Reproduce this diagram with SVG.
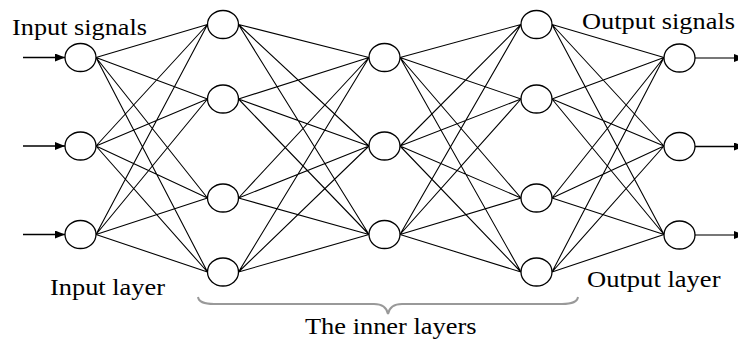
<svg xmlns="http://www.w3.org/2000/svg" width="738" height="340" viewBox="0 0 738 340">
  <style>
    .node { fill: #fff; stroke: #000; stroke-width: 1.3; }
    .edge { stroke: #000; stroke-width: 1.1; fill: none; }
    .sig { stroke: #000; stroke-width: 1.3; }
    .sig-gray { stroke: #777; stroke-width: 2; }
    .label { font-family: "Times New Roman", "Liberation Serif", Tinos, Times, serif; font-size: 24px; fill: #000; }
    .brace { stroke: #999; stroke-width: 2; fill: none; }
  </style>
  <defs>
    <marker id="arrow" viewBox="0 0 10 8" refX="10" refY="4" markerWidth="10" markerHeight="8" markerUnits="userSpaceOnUse" orient="auto">
      <path d="M0,0 L10,4 L0,8 Z" fill="#000"/>
    </marker>
  </defs>

  <!-- full-mesh connections between consecutive layers, edge point to edge point -->
  <g id="connectors">
    <!-- input layer (x 80.5) to hidden layer 1 (x 223) -->
    <path class="edge" d="M96,57.5 L207.5,24.5 M96,57.5 L207.5,99 M96,57.5 L207.5,198 M96,57.5 L207.5,272
                          M96,146 L207.5,24.5 M96,146 L207.5,99 M96,146 L207.5,198 M96,146 L207.5,272
                          M96,234.5 L207.5,24.5 M96,234.5 L207.5,99 M96,234.5 L207.5,198 M96,234.5 L207.5,272"/>
    <!-- hidden layer 1 to hidden layer 2 (x 384.5) -->
    <path class="edge" d="M238.5,24.5 L369,57.5 M238.5,24.5 L369,146 M238.5,24.5 L369,234.5
                          M238.5,99 L369,57.5 M238.5,99 L369,146 M238.5,99 L369,234.5
                          M238.5,198 L369,57.5 M238.5,198 L369,146 M238.5,198 L369,234.5
                          M238.5,272 L369,57.5 M238.5,272 L369,146 M238.5,272 L369,234.5"/>
    <!-- hidden layer 2 to hidden layer 3 (x 536.5) -->
    <path class="edge" d="M400,57.5 L521,24.5 M400,57.5 L521,99 M400,57.5 L521,198 M400,57.5 L521,272
                          M400,146 L521,24.5 M400,146 L521,99 M400,146 L521,198 M400,146 L521,272
                          M400,234.5 L521,24.5 M400,234.5 L521,99 M400,234.5 L521,198 M400,234.5 L521,272"/>
    <!-- hidden layer 3 to output layer (x 679.5) -->
    <path class="edge" d="M552,24.5 L664,57.5 M552,24.5 L664,146 M552,24.5 L664,234.5
                          M552,99 L664,57.5 M552,99 L664,146 M552,99 L664,234.5
                          M552,198 L664,57.5 M552,198 L664,146 M552,198 L664,234.5
                          M552,272 L664,57.5 M552,272 L664,146 M552,272 L664,234.5"/>
    <!-- incoming signals -->
    <line class="sig" x1="23" y1="57.5" x2="65" y2="57.5" marker-end="url(#arrow)"/>
    <line class="sig" x1="23" y1="146" x2="65" y2="146" marker-end="url(#arrow)"/>
    <line class="sig" x1="23" y1="234.5" x2="65" y2="234.5" marker-end="url(#arrow)"/>
    <!-- outgoing signals -->
    <line class="sig-gray" x1="695" y1="58" x2="744" y2="58" marker-end="url(#arrow)"/>
    <line class="sig" x1="695" y1="146.5" x2="744" y2="146.5" marker-end="url(#arrow)"/>
    <line class="sig-gray" x1="695" y1="235" x2="744" y2="235" marker-end="url(#arrow)"/>
  </g>

  <!-- input layer -->
  <g id="in1"><ellipse class="node" cx="80.5" cy="57.5" rx="15.5" ry="14"/></g>
  <g id="in2"><ellipse class="node" cx="80.5" cy="146" rx="15.5" ry="14"/></g>
  <g id="in3"><ellipse class="node" cx="80.5" cy="234.5" rx="15.5" ry="14"/></g>

  <!-- hidden layer 1 -->
  <g id="h1a"><ellipse class="node" cx="223" cy="24.5" rx="15.5" ry="14"/></g>
  <g id="h1b"><ellipse class="node" cx="223" cy="99" rx="15.5" ry="14"/></g>
  <g id="h1c"><ellipse class="node" cx="223" cy="198" rx="15.5" ry="14"/></g>
  <g id="h1d"><ellipse class="node" cx="223" cy="272" rx="15.5" ry="14"/></g>

  <!-- hidden layer 2 -->
  <g id="h2a"><ellipse class="node" cx="384.5" cy="57.5" rx="15.5" ry="14"/></g>
  <g id="h2b"><ellipse class="node" cx="384.5" cy="146" rx="15.5" ry="14"/></g>
  <g id="h2c"><ellipse class="node" cx="384.5" cy="234.5" rx="15.5" ry="14"/></g>

  <!-- hidden layer 3 -->
  <g id="h3a"><ellipse class="node" cx="536.5" cy="24.5" rx="15.5" ry="14"/></g>
  <g id="h3b"><ellipse class="node" cx="536.5" cy="99" rx="15.5" ry="14"/></g>
  <g id="h3c"><ellipse class="node" cx="536.5" cy="198" rx="15.5" ry="14"/></g>
  <g id="h3d"><ellipse class="node" cx="536.5" cy="272" rx="15.5" ry="14"/></g>

  <!-- output layer -->
  <g id="out1"><ellipse class="node" cx="679.5" cy="58" rx="15.5" ry="14"/></g>
  <g id="out2"><ellipse class="node" cx="679.5" cy="146.5" rx="15.5" ry="14"/></g>
  <g id="out3"><ellipse class="node" cx="679.5" cy="235" rx="15.5" ry="14"/></g>

  <!-- brace grouping the inner layers -->
  <path class="brace" d="M198,297 Q199,304 214,304 L374,304 Q386,304 388,314 Q390,304 402,304 L562,304 Q577,304 578,297"/>

  <!-- labels -->
  <g id="labels">
    <text class="label" x="12" y="35" textLength="135" lengthAdjust="spacingAndGlyphs">Input signals</text>
    <text class="label" x="582" y="28.5" textLength="153" lengthAdjust="spacingAndGlyphs">Output signals</text>
    <text class="label" x="50" y="295" textLength="115" lengthAdjust="spacingAndGlyphs">Input layer</text>
    <text class="label" x="587" y="287" textLength="133.5" lengthAdjust="spacingAndGlyphs">Output layer</text>
    <text class="label" x="305" y="334" textLength="171.5" lengthAdjust="spacingAndGlyphs">The inner layers</text>
  </g>
</svg>
